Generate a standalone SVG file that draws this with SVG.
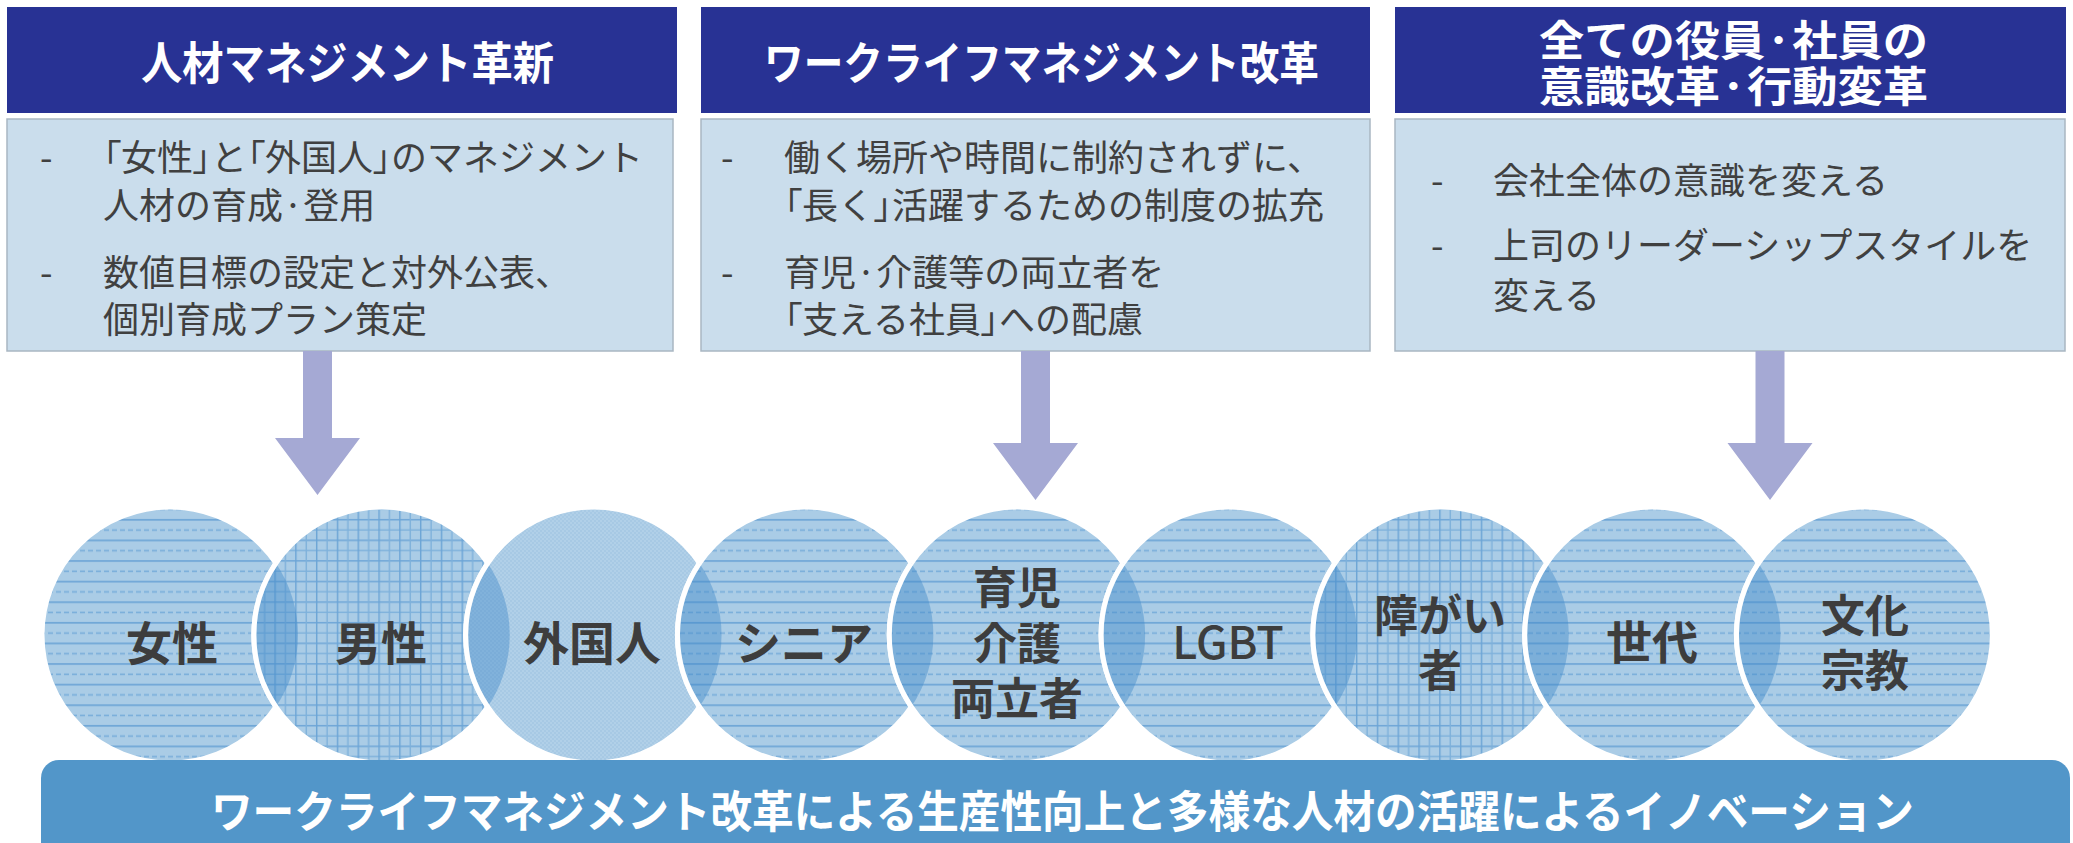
<svg xmlns="http://www.w3.org/2000/svg" width="2073" height="843" viewBox="0 0 2073 843">
<defs>
<style>
.hdr{fill:#283294;}
.hdrt{fill:#ffffff;font-family:"Noto Sans CJK JP","Noto Sans",sans-serif;font-weight:700;font-size:45px;}
.h3{font-size:42px;}
.body{fill:#CADDEC;stroke:#A9B6C2;stroke-width:1.5;}
.bt{fill:#404040;font-family:"Noto Sans CJK JP","Noto Sans",sans-serif;font-weight:400;font-size:36px;}
.p{font-feature-settings:"palt";}
.arrow{fill:#A5A9D4;}
.circ{stroke:#ffffff;stroke-width:5;}
.lens{fill:#3F88C8;fill-opacity:0.42;}
.warc{fill:none;stroke:#ffffff;stroke-width:5;}
.lbl{fill:#3D3D3D;font-family:"Noto Sans CJK JP","Noto Sans",sans-serif;font-weight:700;font-size:46px;text-anchor:middle;}
.ml{font-size:44px;}
.bar{fill:#5296C9;}
.bart{fill:#ffffff;font-family:"Noto Sans CJK JP","Noto Sans",sans-serif;font-weight:700;font-size:44px;}
</style>
<pattern id="hl" patternUnits="userSpaceOnUse" width="8" height="20.6">
<rect width="8" height="20.6" fill="#AACCE6"/>
<rect y="4" width="8" height="1.6" fill="#6BA4D6"/>
<rect y="14.3" width="5" height="1.6" fill="#79AEDA"/>
</pattern>
<pattern id="gr" patternUnits="userSpaceOnUse" width="20.8" height="20.6">
<rect width="20.8" height="20.6" fill="#AACCE6"/>
<rect y="4" width="20.8" height="1.4" fill="#6BA4D6"/>
<rect y="14.3" width="20.8" height="1.4" fill="#7EB1DB"/>
<rect x="4" width="1.4" height="20.6" fill="#6BA4D6"/>
<rect x="14.4" width="1.4" height="20.6" fill="#7EB1DB"/>
</pattern>
<pattern id="ck" patternUnits="userSpaceOnUse" width="4" height="4">
<rect width="4" height="4" fill="#A7C9E4"/>
<rect width="2" height="2" fill="#B1D0E8"/>
<rect x="2" y="2" width="2" height="2" fill="#B1D0E8"/>
</pattern>
</defs>
<rect width="2073" height="843" fill="#ffffff"/>

<g id="box1">
<rect class="hdr" x="7" y="7" width="670" height="106"/>
<text class="hdrt" x="141" y="80" textLength="413" lengthAdjust="spacingAndGlyphs">人材マネジメント革新</text>
<rect class="body" x="7" y="119" width="666" height="232"/>
<text class="bt" x="40" y="171">-</text>
<text class="bt" x="103" y="171"><tspan class="p">「</tspan>女性<tspan class="p">」</tspan>と<tspan class="p">「</tspan>外国人<tspan class="p">」</tspan>のマネジメント</text>
<text class="bt" x="103" y="219">人材の育成·登用</text>
<text class="bt" x="40" y="286">-</text>
<text class="bt" x="103" y="286">数値目標の設定と対外公表、</text>
<text class="bt" x="103" y="333">個別育成プラン策定</text>
</g>

<g id="box2">
<rect class="hdr" x="701" y="7" width="669" height="106"/>
<text class="hdrt" x="764" y="80" textLength="555" lengthAdjust="spacingAndGlyphs">ワークライフマネジメント改革</text>
<rect class="body" x="701" y="119" width="669" height="232"/>
<text class="bt" x="721" y="171">-</text>
<text class="bt" x="784" y="171">働く場所や時間に制約されずに、</text>
<text class="bt" x="784" y="219"><tspan class="p">「</tspan>長く<tspan class="p">」</tspan>活躍するための制度の拡充</text>
<text class="bt" x="721" y="286">-</text>
<text class="bt" x="784" y="286">育児·介護等の両立者を</text>
<text class="bt" x="784" y="333"><tspan class="p">「</tspan>支える社員<tspan class="p">」</tspan>への配慮</text>
</g>

<g id="box3">
<rect class="hdr" x="1395" y="7" width="671" height="106"/>
<text class="hdrt h3" x="1539" y="56" textLength="389" lengthAdjust="spacingAndGlyphs">全ての役員·社員の</text>
<text class="hdrt h3" x="1539" y="102" textLength="389" lengthAdjust="spacingAndGlyphs">意識改革·行動変革</text>
<rect class="body" x="1395" y="119" width="670" height="232"/>
<text class="bt" x="1431" y="194">-</text>
<text class="bt" x="1493" y="194">会社全体の意識を変える</text>
<text class="bt" x="1431" y="259">-</text>
<text class="bt" x="1493" y="259">上司のリーダーシップスタイルを</text>
<text class="bt" x="1493" y="309">変える</text>
</g>

<g id="connectors">
<polygon class="arrow" points="303,351 332,351 332,438 360,438 317.5,495 275,438 303,438"/>
<polygon class="arrow" points="1021,351 1050,351 1050,443 1078,443 1035.5,500 993,443 1021,443"/>
<polygon class="arrow" points="1755.5,351 1784.5,351 1784.5,443 1812.5,443 1770,500 1727.5,443 1755.5,443"/>
</g>

<g id="circles">
<circle id="c1" class="circ" cx="170" cy="635" r="128" fill="url(#hl)"/>
<circle id="c2" class="circ" cx="381.8" cy="635" r="128" fill="url(#gr)"/>
<circle id="c3" class="circ" cx="593.6" cy="635" r="128" fill="url(#ck)"/>
<circle id="c4" class="circ" cx="805.4" cy="635" r="128" fill="url(#hl)"/>
<circle id="c5" class="circ" cx="1017.2" cy="635" r="128" fill="url(#hl)"/>
<circle id="c6" class="circ" cx="1229" cy="635" r="128" fill="url(#hl)"/>
<circle id="c7" class="circ" cx="1440.8" cy="635" r="128" fill="url(#gr)"/>
<circle id="c8" class="circ" cx="1652.6" cy="635" r="128" fill="url(#hl)"/>
<circle id="c9" class="circ" cx="1864.4" cy="635" r="128" fill="url(#hl)"/>
</g>
<g id="lenses">
<path class="lens" d="M275.9,563.2 A128,128 0 0 0 275.9,706.8 A128,128 0 0 0 275.9,563.2 Z"/>
<path class="lens" d="M487.7,563.2 A128,128 0 0 0 487.7,706.8 A128,128 0 0 0 487.7,563.2 Z"/>
<path class="lens" d="M699.5,563.2 A128,128 0 0 0 699.5,706.8 A128,128 0 0 0 699.5,563.2 Z"/>
<path class="lens" d="M911.3,563.2 A128,128 0 0 0 911.3,706.8 A128,128 0 0 0 911.3,563.2 Z"/>
<path class="lens" d="M1123.1,563.2 A128,128 0 0 0 1123.1,706.8 A128,128 0 0 0 1123.1,563.2 Z"/>
<path class="lens" d="M1334.9,563.2 A128,128 0 0 0 1334.9,706.8 A128,128 0 0 0 1334.9,563.2 Z"/>
<path class="lens" d="M1546.7,563.2 A128,128 0 0 0 1546.7,706.8 A128,128 0 0 0 1546.7,563.2 Z"/>
<path class="lens" d="M1758.5,563.2 A128,128 0 0 0 1758.5,706.8 A128,128 0 0 0 1758.5,563.2 Z"/>
</g>
<g id="arcs">
<path class="warc" d="M275.9,563.2 A128,128 0 0 0 275.9,706.8"/>
<path class="warc" d="M487.7,563.2 A128,128 0 0 0 487.7,706.8"/>
<path class="warc" d="M699.5,563.2 A128,128 0 0 0 699.5,706.8"/>
<path class="warc" d="M911.3,563.2 A128,128 0 0 0 911.3,706.8"/>
<path class="warc" d="M1123.1,563.2 A128,128 0 0 0 1123.1,706.8"/>
<path class="warc" d="M1334.9,563.2 A128,128 0 0 0 1334.9,706.8"/>
<path class="warc" d="M1546.7,563.2 A128,128 0 0 0 1546.7,706.8"/>
<path class="warc" d="M1758.5,563.2 A128,128 0 0 0 1758.5,706.8"/>
</g>

<g id="labels">
<text class="lbl" x="172" y="660">女性</text>
<text class="lbl" x="381" y="660">男性</text>
<text class="lbl" x="592" y="660">外国人</text>
<text class="lbl" x="804" y="660">シニア</text>
<text class="lbl ml" x="1017" y="604">育児</text>
<text class="lbl ml" x="1017" y="660">介護</text>
<text class="lbl ml" x="1017" y="715">両立者</text>
<text class="lbl" x="1228" y="659" style="font-weight:500;font-size:45px">LGBT</text>
<text class="lbl ml" x="1440" y="632">障がい</text>
<text class="lbl ml" x="1440" y="687">者</text>
<text class="lbl" x="1652" y="659">世代</text>
<text class="lbl ml" x="1865" y="632">文化</text>
<text class="lbl ml" x="1865" y="687">宗教</text>
</g>

<g id="bar">
<rect class="bar" x="41" y="760" width="2029" height="110" rx="18" ry="18"/>
<text class="bart" x="211" y="828" textLength="1703" lengthAdjust="spacingAndGlyphs">ワークライフマネジメント改革による生産性向上と多様な人材の活躍によるイノベーション</text>
</g>
</svg>
